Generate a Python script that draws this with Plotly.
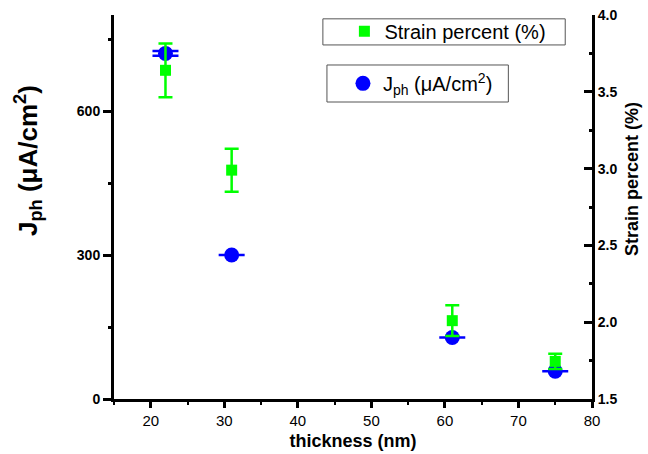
import plotly.graph_objects as go

# ---- data ----
thickness = [22, 31, 61, 75]
jph = [720, 300, 128, 58]
jph_err = [5, 0, 0, 0]
strain = [3.64, 2.99, 2.01, 1.745]
strain_err = [0.175, 0.14, 0.10, 0.05]

x_ticks = [20, 30, 40, 50, 60, 70, 80]
y1_ticks = [0, 300, 600]
y2_ticks = [1.5, 2.0, 2.5, 3.0, 3.5, 4.0]

FONT = "Liberation Sans, Arial, sans-serif"
GREEN = "#00ff00"
BLUE = "#0000ff"

fig = go.Figure()

fig.add_trace(go.Scatter(
    x=thickness, y=jph, mode="markers", name="J<sub>ph</sub> (μA/cm<sup>2</sup>)",
    marker=dict(symbol="circle", size=15, color=BLUE),
    error_y=dict(type="data", array=jph_err, color=BLUE, thickness=2.5, width=13),
    yaxis="y", legend="legend2", showlegend=True,
))
fig.add_trace(go.Scatter(
    x=thickness, y=strain, mode="markers", name="Strain percent (%)",
    marker=dict(symbol="square", size=11, color=GREEN),
    error_y=dict(type="data", array=strain_err, color=GREEN, thickness=2.5, width=7),
    yaxis="y2", legend="legend", showlegend=True,
))

axis_common = dict(showgrid=False, zeroline=False, showline=True, linecolor="black",
                   linewidth=3, tickcolor="black", tickwidth=3, automargin=False)

fig.update_layout(
    width=648, height=454,
    margin=dict(l=114, r=56, t=15, b=55),
    paper_bgcolor="white", plot_bgcolor="white",
    showlegend=True,
    font=dict(family=FONT, color="black"),
    xaxis=dict(**axis_common, range=[15, 80], tickvals=x_ticks, ticks="outside", ticklen=6,
               tickfont=dict(size=15, family=FONT),
               minor=dict(dtick=5, tick0=0, ticks="outside", ticklen=3, tickwidth=2, tickcolor="black"),
               title=dict(text="<b>thickness (nm)</b>", font=dict(size=18, family=FONT), standoff=7)),
    yaxis=dict(**axis_common, range=[0, 800], tickvals=y1_ticks, ticks="outside", ticklen=8,
               tickfont=dict(size=14, family=FONT, weight="bold"),
               minor=dict(dtick=150, tick0=0, ticks="outside", ticklen=3, tickwidth=3, tickcolor="black")),
    yaxis2=dict(**axis_common, range=[1.5, 4.0], tickvals=y2_ticks, ticks="inside", ticklen=8,
                overlaying="y", side="right", ticktext=[f"{v:.1f}" for v in y2_ticks],
                tickfont=dict(size=14, family=FONT, weight="bold"),
                minor=dict(dtick=0.25, tick0=1.5, ticks="inside", ticklen=3, tickwidth=3, tickcolor="black")),
    legend=dict(x=0.482, y=0.958, xanchor="left", yanchor="middle", bgcolor="rgba(0,0,0,0)",
                borderwidth=0, font=dict(size=20, family=FONT)),
    legend2=dict(x=0.479, y=0.822, xanchor="left", yanchor="middle", bgcolor="rgba(0,0,0,0)",
                 borderwidth=0, font=dict(size=20, family=FONT)),
    shapes=[
        dict(type="rect", xref="paper", yref="paper", x0=0.437, x1=0.944, y0=0.922, y1=0.990,
             line=dict(color="#555555", width=1), fillcolor="rgba(0,0,0,0)"),
        dict(type="rect", xref="paper", yref="paper", x0=0.4455, x1=0.825, y0=0.7734, y1=0.8698,
             line=dict(color="#555555", width=1), fillcolor="rgba(0,0,0,0)"),
    ],
    annotations=[
        dict(text="<b>J<sub>ph</sub> (μA/cm<sup>2</sup>)</b>", xref="paper", yref="paper",
             x=-0.222, y=0.622, textangle=-90, showarrow=False, font=dict(size=26, family=FONT)),
        dict(text="<b>Strain percent (%)</b>", xref="paper", yref="paper",
             x=1.11, y=0.572, textangle=-90, showarrow=False, font=dict(size=18, family=FONT)),
    ],
)

fig.write_html("out.html")
